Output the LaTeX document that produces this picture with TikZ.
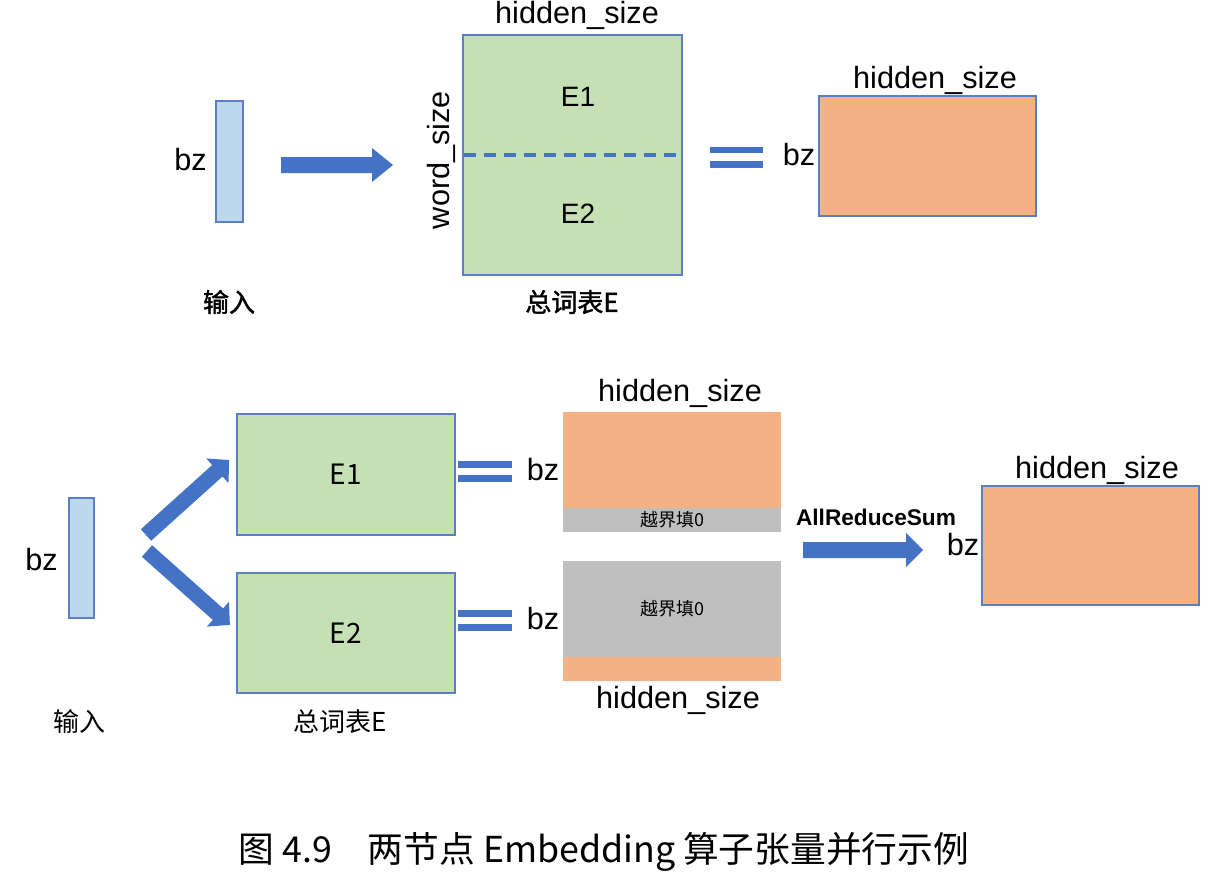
\documentclass[tikz,border=0pt]{standalone}
\usepackage{fontspec}
\setmainfont{Liberation Sans}
\newfontfamily\cjk{Noto Sans CJK SC}[AutoFakeBold=1.5]
\definecolor{barblue}{HTML}{BDD7EE}
\definecolor{edgeblue}{HTML}{5B7FC2}
\definecolor{arrblue}{HTML}{4472C4}
\definecolor{greenf}{HTML}{C5E0B4}
\definecolor{orangef}{HTML}{F4B183}
\definecolor{grayf}{HTML}{BFBFBF}
\newcommand\blockarrow[7]{% x, y, length, angle, shaft half, head half, head length
  \fill[arrblue, shift={(#1,#2)}, rotate=#4]
    (0,-#5) -- (#3-#7,-#5) -- (#3-#7,-#6) -- (#3,0) -- (#3-#7,#6) -- (#3-#7,#5) -- (0,#5) -- cycle;}
\begin{document}
\begin{tikzpicture}[x=0.75pt,y=-0.75pt,
  box/.style={draw=edgeblue, line width=1.1pt, inner sep=0pt, outer sep=0pt},
  plain/.style={inner sep=0pt, outer sep=0pt},
  lbl/.style={inner sep=0pt, font=\fontsize{23pt}{26pt}\selectfont},
  elbl/.style={inner sep=0pt, font=\fontsize{21pt}{24pt}\selectfont},
  clbl/.style={inner sep=0pt, font=\cjk\bfseries\fontsize{19.5pt}{22pt}\selectfont},
  zlbl/.style={inner sep=0pt, font=\cjk\fontsize{13.5pt}{15pt}\selectfont},
  eqbar/.style={fill=arrblue}]
\useasboundingbox (0,0) rectangle (1212,878);
% ---------- top ----------
\node[box, fill=barblue, minimum width=20.25pt, minimum height=90.75pt] (tbar) at (229.5,161.5) {};
\node[lbl, anchor=east] (tbz) at (207,160) {bz};
\node[clbl] (tin) at (229,302) {输入};
\blockarrow{281}{165}{112}{0}{8}{17}{21}
\node[box, fill=greenf, minimum width=164.25pt, minimum height=180pt] (bigE) at (572.5,155) {};
\draw[arrblue, line width=2.6pt, dash pattern=on 9pt off 6pt] ([xshift=1pt]bigE.west) -- (bigE.east);
\node[elbl] (tE1) at (578,97) {E1};
\node[elbl] (tE2) at (578,214) {E2};
\node[lbl] (thid) at (577,15) {hidden\_size};
\node[lbl, rotate=90] (tword) at (441,160) {word\_size};
\node[clbl] (ttab) at (572,302) {总词表E};
\fill[eqbar] (710,147) rectangle (763,153);
\fill[eqbar] (710,161) rectangle (763,168);
\node[lbl] (tbz2) at (799,155) {bz};
\node[box, fill=orangef, minimum width=162.75pt, minimum height=90pt] (tout) at (927.5,156) {};
\node[lbl] (thid2) at (935,80) {hidden\_size};
% ---------- bottom ----------
\node[box, fill=barblue, minimum width=18.75pt, minimum height=90pt] (bbar) at (81.5,558) {};
\node[lbl, anchor=east] (bbz) at (58,560) {bz};
\node[zlbl, font=\cjk\fontsize{19.5pt}{22pt}\selectfont] (bin) at (79,722) {输入};
\blockarrow{146}{535}{112}{42}{7.7}{16.6}{16}
\blockarrow{147}{551}{111}{-41.7}{7.7}{16.6}{16}
\node[box, fill=greenf, minimum width=163.5pt, minimum height=90.75pt] (bE1) at (346,474.5) {};
\node[box, fill=greenf, minimum width=163.5pt, minimum height=90pt] (bE2) at (346,633) {};
\node[elbl, font=\cjk\fontsize{21pt}{24pt}\selectfont] at (bE1) {E1};
\node[elbl, font=\cjk\fontsize{21pt}{24pt}\selectfont] at (bE2) {E2};
\node[zlbl, font=\cjk\fontsize{19.5pt}{22pt}\selectfont] (btab) at (340,722) {总词表E};
\fill[eqbar] (458,461) rectangle (512,468);
\fill[eqbar] (458,475) rectangle (512,482);
\fill[eqbar] (458,610) rectangle (512,617);
\fill[eqbar] (458,624) rectangle (512,631);
\node[lbl] (bbz1) at (543,470) {bz};
\node[lbl] (bbz2) at (543,619) {bz};
\node[plain, fill=orangef, minimum width=163.5pt, minimum height=72pt] (o1a) at (672,460) {};
\node[plain, fill=grayf, minimum width=163.5pt, minimum height=18pt] (o1b) at (672,520) {};
\node[zlbl] at (o1b) {越界填0};
\node[plain, fill=grayf, minimum width=163.5pt, minimum height=72pt] (o2a) at (672,609) {};
\node[plain, fill=orangef, minimum width=163.5pt, minimum height=18pt] (o2b) at (672,669) {};
\node[zlbl] at (o2a) {越界填0};
\node[lbl] (bhid1) at (680,393) {hidden\_size};
\node[lbl] (bhid2) at (678,700) {hidden\_size};
\blockarrow{803}{550}{120}{0}{8}{17}{17}
\node[inner sep=0pt, font=\bfseries\fontsize{17pt}{20pt}\selectfont] (ars) at (876,517) {AllReduceSum};
\node[lbl] (rbz) at (963,545) {bz};
\node[box, fill=orangef, minimum width=162.75pt, minimum height=89.25pt] (res) at (1090.5,545.5) {};
\node[lbl] (rhid) at (1097,470) {hidden\_size};
% ---------- caption ----------
\node[inner sep=0pt, font=\cjk\fontsize{26.8pt}{30pt}\selectfont] (cap) at (604,852) {图 4.9\hspace{1em}两节点 Embedding 算子张量并行示例};
\end{tikzpicture}
\end{document}
